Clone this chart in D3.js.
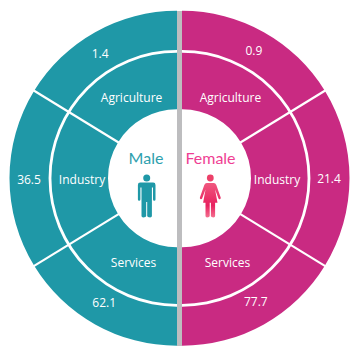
<!DOCTYPE html>
<html>
<head>
<meta charset="utf-8">
<script src="https://cdn.jsdelivr.net/npm/d3@7"></script>
<style>
  html, body { margin: 0; padding: 0; background: #fff; }
  svg { display: block; }
  text { font-family: "Open Sans", sans-serif; }
</style>
</head>
<body>
<div id="chart"></div>
<script>
const categories = ['Agriculture', 'Industry', 'Services'];
const maleValues = ['1.4', '36.5', '62.1'];
const femaleValues = ['0.9', '21.4', '77.7'];

// the sectors are not proportional to the values, all three are about the same size
const sectorWeights = [58.5, 63, 58.5];

const width = 351;
const height = 350;
const cy = 178.3;
const maleCx = 177;
const femaleCx = 182;
const holeR = 69;
const ringR = 127;
const outerR = 167.5;

const teal = '#1f98a7';
const pink = '#c92a82';

const svg = d3.select('#chart').append('svg')
    .attr('width', width)
    .attr('height', height);

const defs = svg.append('defs');
const grad = defs.append('linearGradient')
    .attr('id', 'femaleGrad')
    .attr('x1', 0).attr('y1', 0).attr('x2', 0).attr('y2', 1);
grad.append('stop').attr('offset', '0%').attr('stop-color', '#f0587f');
grad.append('stop').attr('offset', '65%').attr('stop-color', '#e8205f');
grad.append('stop').attr('offset', '100%').attr('stop-color', '#f4708f');

const pie = d3.pie().sort(null).value((d, i) => sectorWeights[i]);
const fillArc = d3.arc().innerRadius(holeR).outerRadius(outerR);
const ringArc = d3.arc().innerRadius(ringR - 1.4).outerRadius(ringR + 1.4).startAngle(0);
const catArc = d3.arc().innerRadius(66).outerRadius(124);
const valArc = d3.arc().innerRadius(127).outerRadius(167);

// small label shifts, the labels in the picture do not sit exactly on the centroids
function drawHalf(cx, sign, values, color, catNudge, valNudge) {
    const g = svg.append('g').attr('transform', `translate(${cx},${cy})`);
    const slices = pie.startAngle(0).endAngle(sign * Math.PI)(categories);

    g.selectAll('path.sector')
        .data(slices)
        .enter()
        .append('path')
        .attr('class', 'sector')
        .attr('d', fillArc)
        .attr('fill', color);

    g.append('path')
        .attr('d', ringArc.endAngle(sign * Math.PI)())
        .attr('fill', '#fff');

    // white separators between the sectors
    g.selectAll('line.sep')
        .data(slices.slice(1))
        .enter()
        .append('line')
        .attr('class', 'sep')
        .attr('x1', d => d3.pointRadial(d.startAngle, holeR - 1)[0])
        .attr('y1', d => d3.pointRadial(d.startAngle, holeR - 1)[1])
        .attr('x2', d => d3.pointRadial(d.startAngle, outerR + 1)[0])
        .attr('y2', d => d3.pointRadial(d.startAngle, outerR + 1)[1])
        .attr('stroke', '#fff')
        .attr('stroke-width', 2.2);

    g.selectAll('text.cat')
        .data(slices)
        .enter()
        .append('text')
        .attr('class', 'cat')
        .attr('transform', (d, i) => {
            const c = catArc.centroid(d);
            return `translate(${c[0] + catNudge[i][0]},${c[1] + catNudge[i][1]})`;
        })
        .attr('text-anchor', 'middle')
        .attr('dy', '0.35em')
        .attr('font-size', 12)
        .attr('fill', '#fff')
        .text(d => d.data);

    g.selectAll('text.val')
        .data(slices)
        .enter()
        .append('text')
        .attr('class', 'val')
        .attr('transform', (d, i) => {
            const c = valArc.centroid(d);
            return `translate(${c[0] + valNudge[i][0]},${c[1] + valNudge[i][1]})`;
        })
        .attr('text-anchor', 'middle')
        .attr('dy', '0.35em')
        .attr('font-size', 12)
        .attr('fill', '#fff')
        .text((d, i) => values[i]);
}

drawHalf(maleCx, -1, maleValues, teal, [[1, 2], [0, 1], [3, 2]], [[-5, 4], [-1, 1], [-1, -4]]);
drawHalf(femaleCx, 1, femaleValues, pink, [[2, 2], [0, 1], [-1, 2]], [[0, 1], [0, 0], [2, -5]]);

// grey divider in the middle
svg.append('rect')
    .attr('x', 177)
    .attr('y', 11)
    .attr('width', 5)
    .attr('height', 335)
    .attr('fill', '#bdbdbf');

svg.append('text')
    .attr('x', 146).attr('y', 164)
    .attr('text-anchor', 'middle')
    .style('font-family', 'Lato, sans-serif')
    .attr('font-size', 16)
    .attr('fill', '#2e9fae')
    .text('Male');

svg.append('text')
    .attr('x', 210.5).attr('y', 164)
    .attr('text-anchor', 'middle')
    .style('font-family', 'Lato, sans-serif')
    .attr('font-size', 16)
    .attr('fill', '#ef3e93')
    .text('Female');

// man icon
const man = svg.append('g').attr('fill', teal).attr('transform', 'translate(146.7,178)');
man.append('circle').attr('r', 3.5);
man.append('path').attr('d',
    'M-6.5,4.6 H6.5 Q8.8,4.6 8.8,7 V21.5 Q8.8,22.8 7.6,22.8 Q6.3,22.8 6.3,21.5 V9.5 H5.2 V38 Q5.2,39.4 3.4,39.4 Q0.5,39.4 0.5,38 V24 H-0.5 V38 Q-0.5,39.4 -3.4,39.4 Q-5.2,39.4 -5.2,38 V9.5 H-6.3 V21.5 Q-6.3,22.8 -7.6,22.8 Q-8.8,22.8 -8.8,21.5 V7 Q-8.8,4.6 -6.5,4.6 Z');

// woman icon
const woman = svg.append('g').attr('fill', 'url(#femaleGrad)').attr('transform', 'translate(210.3,178)');
woman.append('circle').attr('r', 3.4).attr('fill', '#ec4069');
woman.append('path').attr('d',
    'M-3.5,5 H3.5 Q5.2,5 6,7 L10.4,19.6 Q10.7,21 9.6,21.2 Q8.6,21.4 8.2,20.4 L4.8,11.5 L7.2,24.8 H4.8 V38 Q4.8,39.4 3.2,39.4 Q0.6,39.4 0.6,38 V24.8 H-0.6 V38 Q-0.6,39.4 -3.2,39.4 Q-4.8,39.4 -4.8,38 V24.8 H-7.2 L-4.8,11.5 L-8.2,20.4 Q-8.6,21.4 -9.6,21.2 Q-10.7,21 -10.4,19.6 L-6,7 Q-5.2,5 -3.5,5 Z');
</script>
</body>
</html>
